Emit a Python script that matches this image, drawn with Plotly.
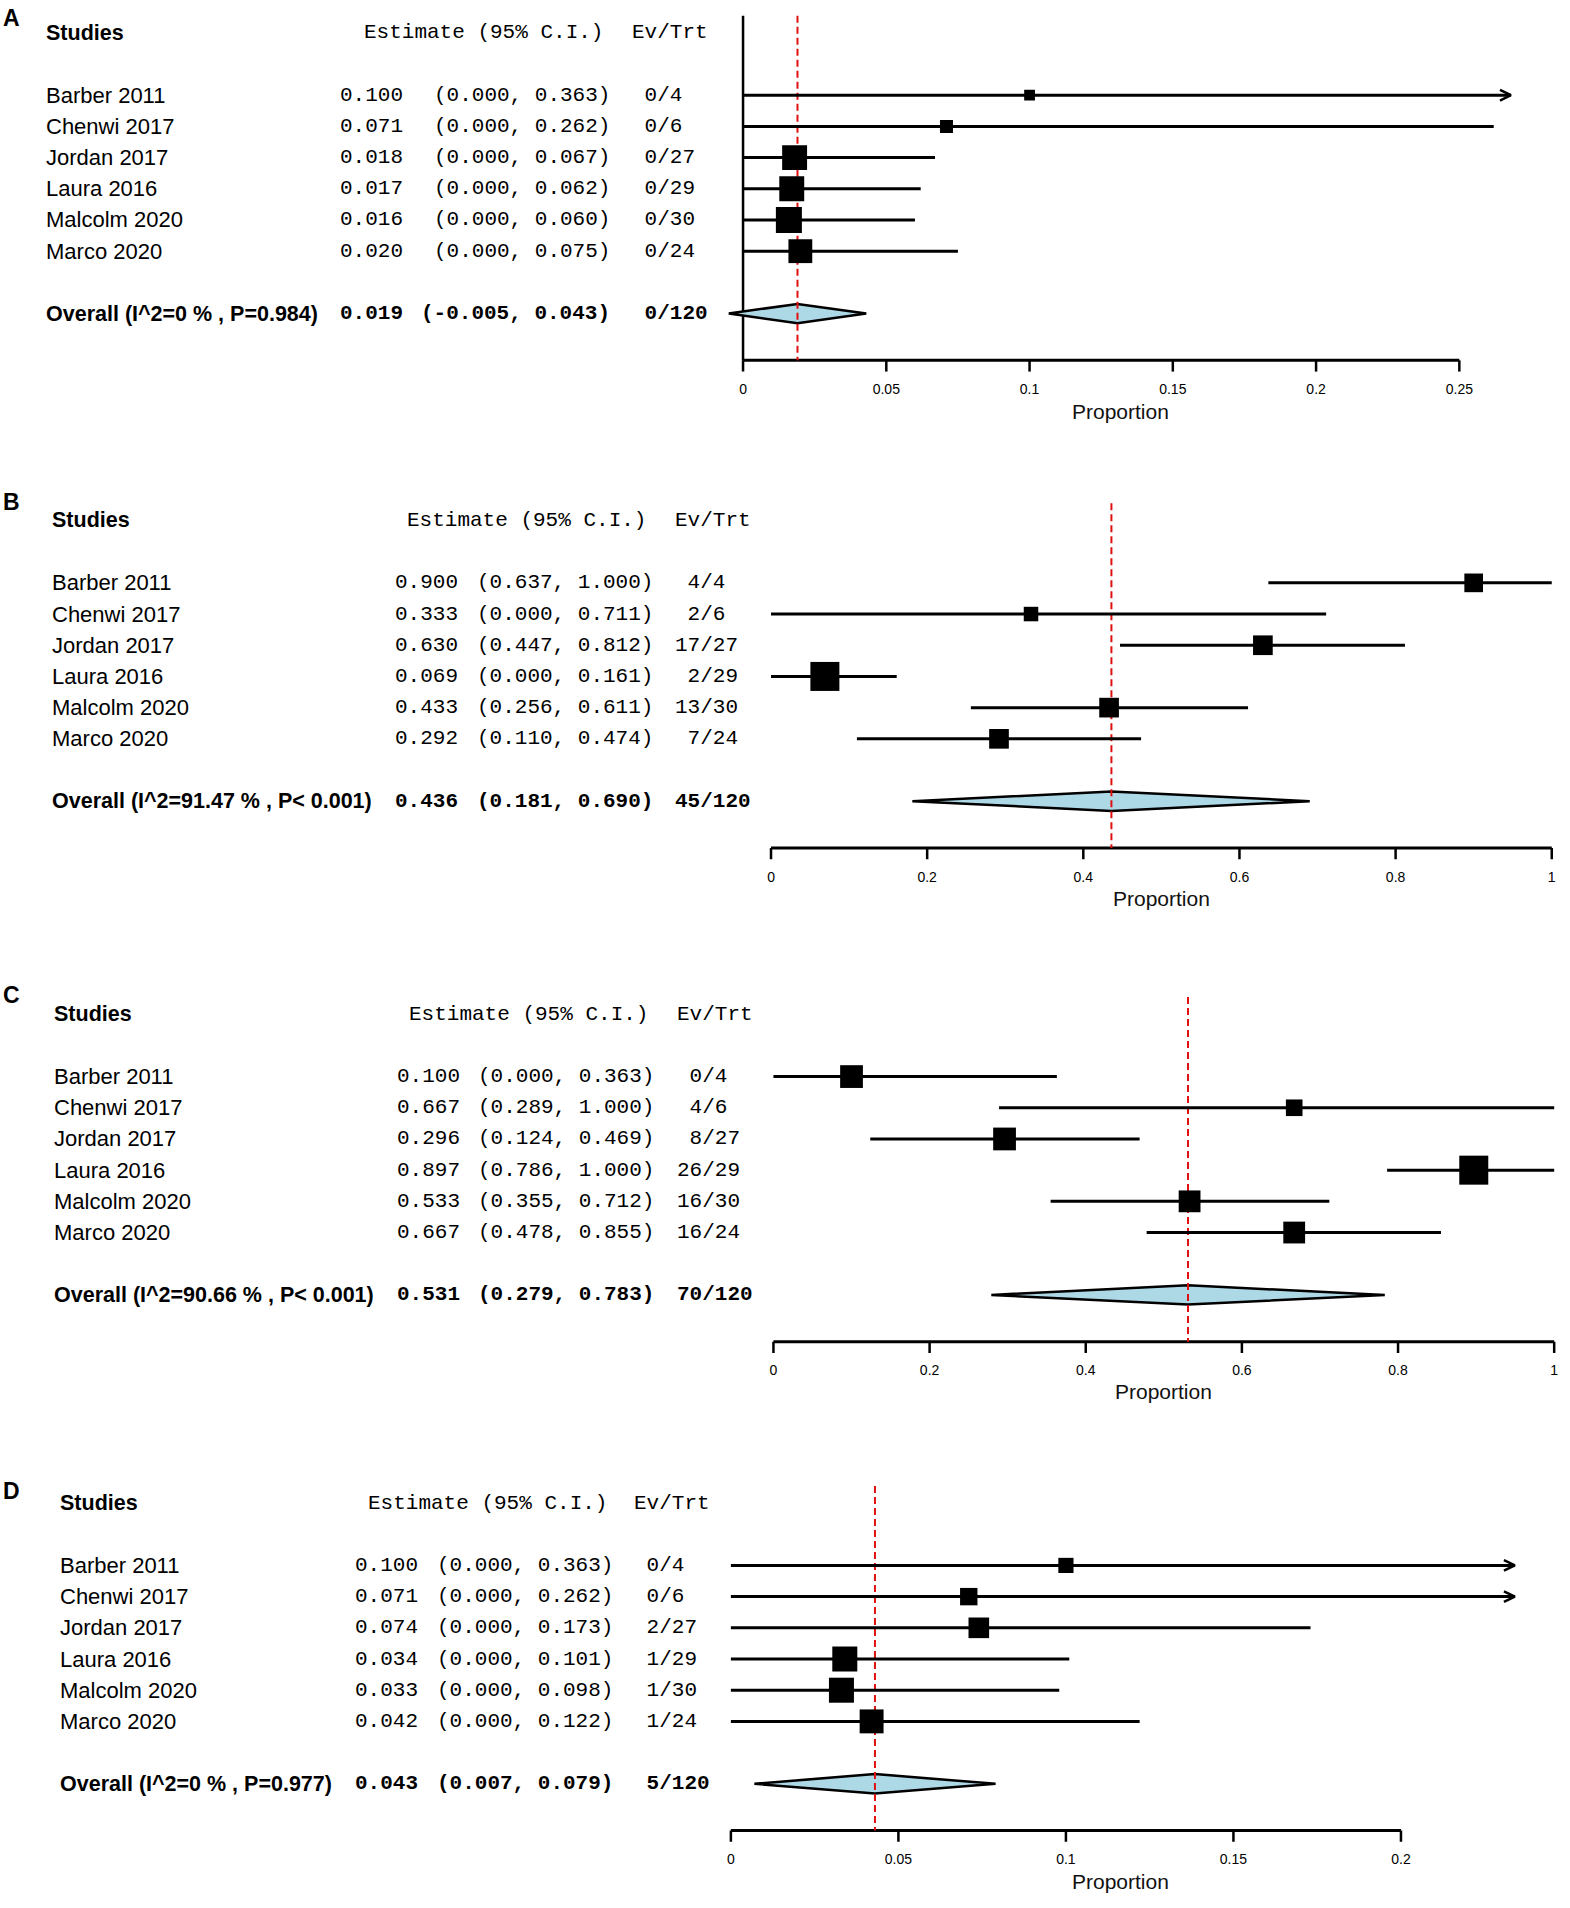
import plotly.graph_objects as go

# ---------------- data ----------------
studies = ["Barber 2011", "Chenwi 2017", "Jordan 2017", "Laura 2016", "Malcolm 2020", "Marco 2020"]
n_trt = [4, 6, 27, 29, 30, 24]

a_est = [0.100, 0.071, 0.018, 0.017, 0.016, 0.020]
a_lo = [0.000, 0.000, 0.000, 0.000, 0.000, 0.000]
a_hi = [0.363, 0.262, 0.067, 0.062, 0.060, 0.075]
a_ev = [0, 0, 0, 0, 0, 0]
a_w = [4.2, 6.1, 22.4, 22.4, 24.4, 20.5]
a_overall = [0.019, -0.005, 0.043]
a_het = "Overall (I^2=0 % , P=0.984)"

b_est = [0.900, 0.333, 0.630, 0.069, 0.433, 0.292]
b_lo = [0.637, 0.000, 0.447, 0.000, 0.256, 0.110]
b_hi = [1.000, 0.711, 0.812, 0.161, 0.611, 0.474]
b_ev = [4, 2, 17, 2, 13, 7]
b_w = [13.6, 8.2, 15.1, 32.8, 15.1, 15.1]
b_overall = [0.436, 0.181, 0.690]
b_het = "Overall (I^2=91.47 % , P< 0.001)"

c_est = [0.100, 0.667, 0.296, 0.897, 0.533, 0.667]
c_lo = [0.000, 0.289, 0.124, 0.786, 0.355, 0.478]
c_hi = [0.363, 1.000, 0.469, 1.000, 0.712, 0.855]
c_ev = [0, 4, 8, 26, 16, 16]
c_w = [16.7, 8.9, 16.7, 27.1, 15.3, 15.3]
c_overall = [0.531, 0.279, 0.783]
c_het = "Overall (I^2=90.66 % , P< 0.001)"

d_est = [0.100, 0.071, 0.074, 0.034, 0.033, 0.042]
d_lo = [0.000, 0.000, 0.000, 0.000, 0.000, 0.000]
d_hi = [0.363, 0.262, 0.173, 0.101, 0.098, 0.122]
d_ev = [0, 0, 2, 1, 1, 1]
d_w = [8.3, 10.9, 15.3, 22.5, 22.5, 20.6]
d_overall = [0.043, 0.007, 0.079]
d_het = "Overall (I^2=0 % , P=0.977)"

a_ticks = [0, 0.05, 0.1, 0.15, 0.2, 0.25]
a_ticktext = ["0", "0.05", "0.1", "0.15", "0.2", "0.25"]
bc_ticks = [0, 0.2, 0.4, 0.6, 0.8, 1.0]
bc_ticktext = ["0", "0.2", "0.4", "0.6", "0.8", "1"]
d_ticks = [0, 0.05, 0.1, 0.15, 0.2]
d_ticktext = ["0", "0.05", "0.1", "0.15", "0.2"]

# ---------------- layout grid (design units of a 1291 x 1569 grid) ----------------
GW, GH = 1291.0, 1569.0
ROW = 25.65  # design units per row


def px(tx):
    return tx / GW


def py(ty):
    return 1 - ty / GH


panels = [
    dict(letter="A", est=a_est, lo=a_lo, hi=a_hi, ev=a_ev, w=a_w, ov=a_overall, het=a_het,
         ticks=a_ticks, ticktext=a_ticktext, H=27, letter_y=15, name_x=38, est_x=280, ci_r=501,
         hdr_x=300, ev_x=520, prop_x=921, prop_y=338, zero=611, unit=2356.0, dom=(575, 1283),
         clip=0.268, box=26, nullline=True),
    dict(letter="B", est=b_est, lo=b_lo, hi=b_hi, ev=b_ev, w=b_w, ov=b_overall, het=b_het,
         ticks=bc_ticks, ticktext=bc_ticktext, H=428, letter_y=413, name_x=43, est_x=325, ci_r=536,
         hdr_x=335, ev_x=555, prop_x=955, prop_y=739, zero=634, unit=642.0, dom=(590, 1288),
         clip=None, box=29, nullline=False),
    dict(letter="C", est=c_est, lo=c_lo, hi=c_hi, ev=c_ev, w=c_w, ov=c_overall, het=c_het,
         ticks=bc_ticks, ticktext=bc_ticktext, H=834, letter_y=818, name_x=45, est_x=327, ci_r=537,
         hdr_x=337, ev_x=557, prop_x=957, prop_y=1144, zero=636, unit=642.0, dom=(592, 1290),
         clip=None, box=29, nullline=False),
    dict(letter="D", est=d_est, lo=d_lo, hi=d_hi, ev=d_ev, w=d_w, ov=d_overall, het=d_het,
         ticks=d_ticks, ticktext=d_ticktext, H=1236, letter_y=1226, name_x=50, est_x=292, ci_r=503,
         hdr_x=303, ev_x=522, prop_x=921, prop_y=1547, zero=601, unit=2755.0, dom=(575, 1283),
         clip=0.234, box=25, nullline=False),
]

rows = [2, 3, 4, 5, 6, 7]
OV_ROW = 9
BASE = 10.5
TOP = -0.55
Y_RANGE = [11.0, -0.62]
LSHIFT = -2.0   # annotation padding compensation (design units)
RSHIFT = 2.5

ARIAL = "Arial, Liberation Sans, sans-serif"
NAME_FONT = dict(family=ARIAL, size=22, color="#000")
BOLD_FONT = dict(family=ARIAL, size=21.5, color="#000")
MONO_FONT = dict(family="Liberation Mono, Courier New, monospace", size=21, color="#000")
NB = "\u00a0"

fig = go.Figure()
annotations = []
layout_axes = {}


def note(x, y, yref, text, font, anchor="left"):
    shift = LSHIFT if anchor == "left" else RSHIFT
    annotations.append(dict(x=px(x + shift), y=y, xref="paper", yref=yref, text=text,
                            showarrow=False, xanchor=anchor, yanchor="middle", font=font))


for i, p in enumerate(panels, start=1):
    xa = "x" if i == 1 else f"x{i}"
    ya = "y" if i == 1 else f"y{i}"
    xkey = "xaxis" if i == 1 else f"xaxis{i}"
    ykey = "yaxis" if i == 1 else f"yaxis{i}"
    L, R = p["dom"]
    xr = [(L - p["zero"]) / p["unit"], (R - p["zero"]) / p["unit"]]
    top_ty = p["H"] + Y_RANGE[1] * ROW
    bot_ty = p["H"] + Y_RANGE[0] * ROW
    layout_axes[xkey] = dict(
        domain=[px(L), px(R)], range=xr, anchor=ya, showgrid=False, zeroline=False,
        showline=False, ticks="", tickvals=p["ticks"], ticktext=p["ticktext"],
        tickfont=dict(family=ARIAL, size=14, color="#000"),
        ticklabelstandoff=3, fixedrange=True,
    )
    layout_axes[ykey] = dict(
        domain=[py(bot_ty), py(top_ty)], range=Y_RANGE, anchor=xa, visible=False,
        showgrid=False, zeroline=False, fixedrange=True,
    )

    ov_est, ov_lo, ov_hi = p["ov"]
    line_style = dict(color="black", width=3)

    # null line (panel A)
    if p["nullline"]:
        fig.add_trace(go.Scatter(x=[0, 0], y=[TOP, BASE], mode="lines", xaxis=xa, yaxis=ya,
                                 line=dict(color="black", width=2.5), hoverinfo="skip", showlegend=False))

    # axis line and ticks
    fig.add_trace(go.Scatter(x=[p["ticks"][0], p["ticks"][-1]], y=[BASE, BASE], mode="lines",
                             xaxis=xa, yaxis=ya, line=line_style, hoverinfo="skip", showlegend=False))
    tx, tyv = [], []
    for t in p["ticks"]:
        tx += [t, t, None]
        tyv += [BASE, BASE + 0.36, None]
    fig.add_trace(go.Scatter(x=tx, y=tyv, mode="lines", xaxis=xa, yaxis=ya,
                             line=dict(color="black", width=2.5), hoverinfo="skip", showlegend=False))

    # diamond (summary estimate)
    h = 0.31
    fig.add_trace(go.Scatter(x=[ov_lo, ov_est, ov_hi, ov_est, ov_lo],
                             y=[OV_ROW, OV_ROW - h, OV_ROW, OV_ROW + h, OV_ROW],
                             mode="lines", fill="toself", fillcolor="#add8e6",
                             line=dict(color="black", width=2.5), xaxis=xa, yaxis=ya,
                             hoverinfo="skip", showlegend=False))

    # summary dashed line
    fig.add_trace(go.Scatter(x=[ov_est, ov_est], y=[TOP, BASE], mode="lines", xaxis=xa, yaxis=ya,
                             line=dict(color="#e01010", width=2, dash="7px,4px"),
                             hoverinfo="skip", showlegend=False))

    # CI lines
    cx, cy = [], []
    arrows_x, arrows_y = [], []
    for r, lo, hi in zip(rows, p["lo"], p["hi"]):
        end = hi
        if p["clip"] is not None and hi > p["clip"]:
            end = p["clip"]
            dx = 9.0 / p["unit"]
            arrows_x += [end - dx, end, end - dx, None]
            arrows_y += [r - 0.17, r, r + 0.17, None]
        cx += [lo, end, None]
        cy += [r, r, None]
    fig.add_trace(go.Scatter(x=cx, y=cy, mode="lines", xaxis=xa, yaxis=ya, line=line_style,
                             hoverinfo="skip", showlegend=False))
    if arrows_x:
        fig.add_trace(go.Scatter(x=arrows_x, y=arrows_y, mode="lines", xaxis=xa, yaxis=ya,
                                 line=dict(color="black", width=2.5), hoverinfo="skip", showlegend=False))

    # boxes (area proportional to weight)
    wmax = max(p["w"])
    sizes = [p["box"] * (w / wmax) ** 0.5 for w in p["w"]]
    fig.add_trace(go.Scatter(x=p["est"], y=rows, mode="markers", xaxis=xa, yaxis=ya,
                             marker=dict(symbol="square", size=sizes, color="#000000", opacity=1,
                                         line=dict(width=0)),
                             hoverinfo="skip", showlegend=False))

    # ---- text columns ----
    annotations.append(dict(x=px(1), y=py(p["letter_y"]), xref="paper", yref="paper",
                            text=f"<b>{p['letter']}</b>", showarrow=False, xanchor="left",
                            yanchor="middle", font=dict(family=ARIAL, size=23, color="#000")))
    note(p["name_x"], 0, ya, "<b>Studies</b>", BOLD_FONT)
    note(p["hdr_x"], 0, ya, f"Estimate{NB}(95%{NB}C.I.)", MONO_FONT)
    note(p["ev_x"], 0, ya, "Ev/Trt", MONO_FONT)

    for r, name, e, lo, hi, ev, n in zip(rows, studies, p["est"], p["lo"], p["hi"], p["ev"], n_trt):
        note(p["name_x"], r, ya, name, NAME_FONT)
        note(p["est_x"], r, ya, f"{e:.3f}", MONO_FONT)
        note(p["ci_r"], r, ya, f"({lo:.3f},{NB}{hi:.3f})", MONO_FONT, anchor="right")
        note(p["ev_x"], r, ya, f"{ev:>2d}".replace(" ", NB) + f"/{n}", MONO_FONT)

    tot_ev = sum(p["ev"])
    tot_n = sum(n_trt)
    note(p["name_x"], OV_ROW, ya, f"<b>{p['het']}</b>", BOLD_FONT)
    note(p["est_x"], OV_ROW, ya, f"<b>{ov_est:.3f}</b>", MONO_FONT)
    note(p["ci_r"], OV_ROW, ya, f"<b>({ov_lo:.3f},{NB}{ov_hi:.3f})</b>", MONO_FONT, anchor="right")
    note(p["ev_x"], OV_ROW, ya, "<b>" + f"{tot_ev:>2d}".replace(" ", NB) + f"/{tot_n}</b>", MONO_FONT)
    annotations.append(dict(x=px(p["prop_x"]), y=py(p["prop_y"]), xref="paper", yref="paper",
                            text="Proportion", showarrow=False, xanchor="center", yanchor="middle",
                            font=dict(family=ARIAL, size=21, color="#111")))

fig.update_layout(
    width=1570, height=1908, margin=dict(l=0, r=0, t=0, b=0),
    paper_bgcolor="white", plot_bgcolor="white", showlegend=False,
    annotations=annotations, **layout_axes,
)

fig.write_html("out.html", config={"displayModeBar": False},
               post_script="document.body.style.margin='0';document.body.style.overflow='hidden';")
